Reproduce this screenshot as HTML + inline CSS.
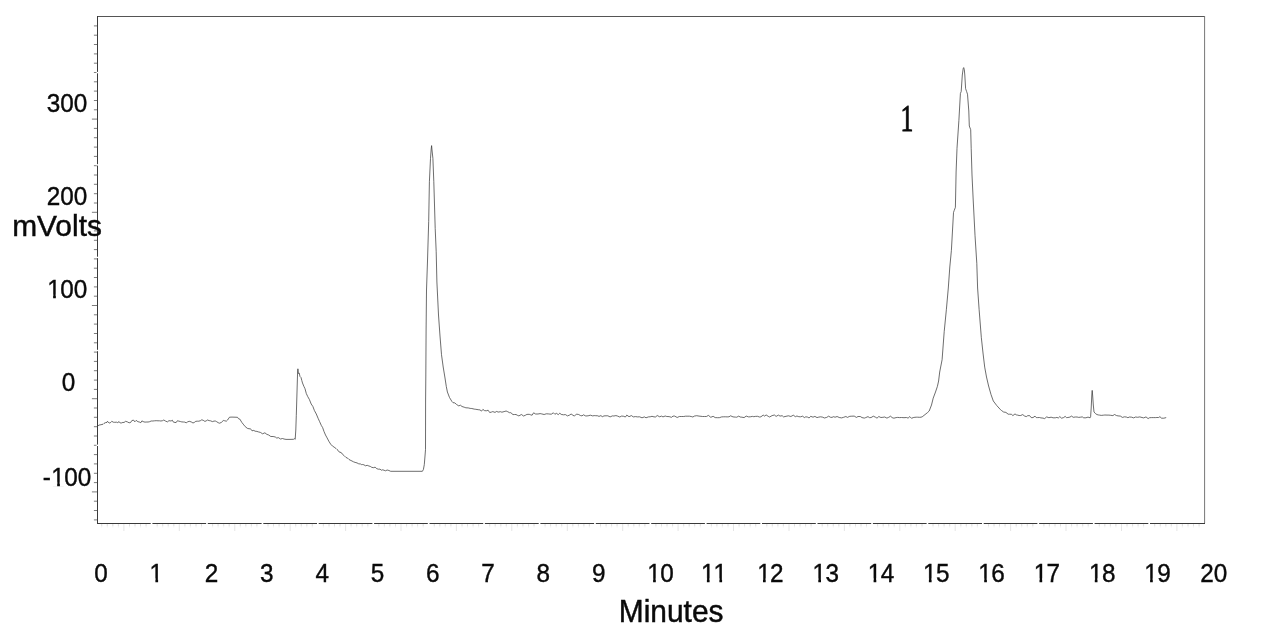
<!DOCTYPE html>
<html lang="en"><head><meta charset="utf-8"><title>Chromatogram</title>
<style>
html,body{margin:0;padding:0;background:#fff;}
body{width:1283px;height:643px;overflow:hidden;position:relative;font-family:"Liberation Sans",Arial,sans-serif;}
svg{position:absolute;left:0;top:0;display:block;}
.num{font-family:"Liberation Sans",Arial,sans-serif;font-size:25.7px;fill:#0a0a0a;stroke:#0a0a0a;stroke-width:0.4px;}
.mk rect{fill:#fff;stroke:none;}
.big{font-family:"Liberation Sans",Arial,sans-serif;font-size:29.9px;fill:#0a0a0a;stroke:#0a0a0a;stroke-width:0.45px;}
.ser{font-family:"Liberation Serif","Times New Roman",serif;font-size:37.7px;fill:#0a0a0a;stroke:#0a0a0a;stroke-width:0.9px;}
</style></head>
<body>
<svg width="1283" height="643" viewBox="0 0 1283 643">
<rect width="1283" height="643" fill="#fff"/>
<g fill="none" stroke-linecap="butt">
<path d="M97 16.5H1205" stroke="#555" stroke-width="1.1"/>
<path d="M1204.6 16V523" stroke="#777" stroke-width="1"/>
<path d="M97.5 16V524" stroke="#3a3a3a" stroke-width="1"/>
<path d="M97 523.5H1205" stroke="#3a3a3a" stroke-width="1.05"/>
<path d="M93.9 25.9H97.5M93.9 35.2H97.5M93.9 44.5H97.5M93.9 53.9H97.5M93.9 63.2H97.5M93.9 72.5H97.5M93.9 81.8H97.5M93.9 91.1H97.5M93.9 100.5H97.5M93.9 109.8H97.5M91.9 119.1H97.5M93.9 128.4H97.5M93.9 137.7H97.5M93.9 147.1H97.5M93.9 156.4H97.5M93.9 165.7H97.5M93.9 175.0H97.5M93.9 184.3H97.5M93.9 193.7H97.5M93.9 203.0H97.5M91.9 212.3H97.5M93.9 221.6H97.5M93.9 230.9H97.5M93.9 240.3H97.5M93.9 249.6H97.5M93.9 258.9H97.5M93.9 268.2H97.5M93.9 277.5H97.5M93.9 286.9H97.5M93.9 296.2H97.5M91.9 305.5H97.5M93.9 314.8H97.5M93.9 324.1H97.5M93.9 333.5H97.5M93.9 342.8H97.5M93.9 352.1H97.5M93.9 361.4H97.5M93.9 370.7H97.5M93.9 380.1H97.5M93.9 389.4H97.5M91.9 398.7H97.5M93.9 408.0H97.5M93.9 417.3H97.5M93.9 426.7H97.5M93.9 436.0H97.5M93.9 445.3H97.5M93.9 454.6H97.5M93.9 463.9H97.5M93.9 473.3H97.5M93.9 482.6H97.5M91.9 491.9H97.5M93.9 501.2H97.5M93.9 510.5H97.5M93.9 519.9H97.5" stroke="#444" stroke-width="0.7"/>
<path d="M101.7 524V527.5M107.3 524V527.5M112.8 524V527.5M118.4 524V527.5M129.5 524V527.5M135.0 524V527.5M140.5 524V527.5M146.1 524V527.5M157.2 524V527.5M162.7 524V527.5M168.2 524V527.5M173.8 524V527.5M184.9 524V527.5M190.4 524V527.5M196.0 524V527.5M201.5 524V527.5M212.6 524V527.5M218.1 524V527.5M223.7 524V527.5M229.2 524V527.5M240.3 524V527.5M245.8 524V527.5M251.4 524V527.5M256.9 524V527.5M268.0 524V527.5M273.5 524V527.5M279.1 524V527.5M284.6 524V527.5M295.7 524V527.5M301.3 524V527.5M306.8 524V527.5M312.3 524V527.5M323.4 524V527.5M329.0 524V527.5M334.5 524V527.5M340.0 524V527.5M351.1 524V527.5M356.7 524V527.5M362.2 524V527.5M367.8 524V527.5M378.8 524V527.5M384.4 524V527.5M389.9 524V527.5M395.5 524V527.5M406.6 524V527.5M412.1 524V527.5M417.6 524V527.5M423.2 524V527.5M434.3 524V527.5M439.8 524V527.5M445.3 524V527.5M450.9 524V527.5M462.0 524V527.5M467.5 524V527.5M473.1 524V527.5M478.6 524V527.5M489.7 524V527.5M495.2 524V527.5M500.8 524V527.5M506.3 524V527.5M517.4 524V527.5M522.9 524V527.5M528.5 524V527.5M534.0 524V527.5M545.1 524V527.5M550.6 524V527.5M556.2 524V527.5M561.7 524V527.5M572.8 524V527.5M578.4 524V527.5M583.9 524V527.5M589.4 524V527.5M600.5 524V527.5M606.1 524V527.5M611.6 524V527.5M617.1 524V527.5M628.2 524V527.5M633.8 524V527.5M639.3 524V527.5M644.9 524V527.5M655.9 524V527.5M661.5 524V527.5M667.0 524V527.5M672.6 524V527.5M683.7 524V527.5M689.2 524V527.5M694.7 524V527.5M700.3 524V527.5M711.4 524V527.5M716.9 524V527.5M722.4 524V527.5M728.0 524V527.5M739.1 524V527.5M744.6 524V527.5M750.2 524V527.5M755.7 524V527.5M766.8 524V527.5M772.3 524V527.5M777.9 524V527.5M783.4 524V527.5M794.5 524V527.5M800.0 524V527.5M805.6 524V527.5M811.1 524V527.5M822.2 524V527.5M827.7 524V527.5M833.3 524V527.5M838.8 524V527.5M849.9 524V527.5M855.5 524V527.5M861.0 524V527.5M866.5 524V527.5M877.6 524V527.5M883.2 524V527.5M888.7 524V527.5M894.2 524V527.5M905.3 524V527.5M910.9 524V527.5M916.4 524V527.5M922.0 524V527.5M933.0 524V527.5M938.6 524V527.5M944.1 524V527.5M949.7 524V527.5M960.8 524V527.5M966.3 524V527.5M971.8 524V527.5M977.4 524V527.5M988.5 524V527.5M994.0 524V527.5M999.5 524V527.5M1005.1 524V527.5M1016.2 524V527.5M1021.7 524V527.5M1027.3 524V527.5M1032.8 524V527.5M1043.9 524V527.5M1049.4 524V527.5M1055.0 524V527.5M1060.5 524V527.5M1071.6 524V527.5M1077.1 524V527.5M1082.7 524V527.5M1088.2 524V527.5M1099.3 524V527.5M1104.8 524V527.5M1110.4 524V527.5M1115.9 524V527.5M1127.0 524V527.5M1132.6 524V527.5M1138.1 524V527.5M1143.6 524V527.5M1154.7 524V527.5M1160.3 524V527.5M1165.8 524V527.5M1171.3 524V527.5M1182.4 524V527.5M1188.0 524V527.5M1193.5 524V527.5M1199.1 524V527.5" stroke="#ececec" stroke-width="0.8"/>
<path d="M101.7 524.2V525.8M107.3 524.2V525.8M112.8 524.2V525.8M118.4 524.2V525.8M129.5 524.2V525.8M135.0 524.2V525.8M140.5 524.2V525.8M146.1 524.2V525.8M157.2 524.2V525.8M162.7 524.2V525.8M168.2 524.2V525.8M173.8 524.2V525.8M184.9 524.2V525.8M190.4 524.2V525.8M196.0 524.2V525.8M201.5 524.2V525.8M212.6 524.2V525.8M218.1 524.2V525.8M223.7 524.2V525.8M229.2 524.2V525.8M240.3 524.2V525.8M245.8 524.2V525.8M251.4 524.2V525.8M256.9 524.2V525.8M268.0 524.2V525.8M273.5 524.2V525.8M279.1 524.2V525.8M284.6 524.2V525.8M295.7 524.2V525.8M301.3 524.2V525.8M306.8 524.2V525.8M312.3 524.2V525.8M323.4 524.2V525.8M329.0 524.2V525.8M334.5 524.2V525.8M340.0 524.2V525.8M351.1 524.2V525.8M356.7 524.2V525.8M362.2 524.2V525.8M367.8 524.2V525.8M378.8 524.2V525.8M384.4 524.2V525.8M389.9 524.2V525.8M395.5 524.2V525.8M406.6 524.2V525.8M412.1 524.2V525.8M417.6 524.2V525.8M423.2 524.2V525.8M434.3 524.2V525.8M439.8 524.2V525.8M445.3 524.2V525.8M450.9 524.2V525.8M462.0 524.2V525.8M467.5 524.2V525.8M473.1 524.2V525.8M478.6 524.2V525.8M489.7 524.2V525.8M495.2 524.2V525.8M500.8 524.2V525.8M506.3 524.2V525.8M517.4 524.2V525.8M522.9 524.2V525.8M528.5 524.2V525.8M534.0 524.2V525.8M545.1 524.2V525.8M550.6 524.2V525.8M556.2 524.2V525.8M561.7 524.2V525.8M572.8 524.2V525.8M578.4 524.2V525.8M583.9 524.2V525.8M589.4 524.2V525.8M600.5 524.2V525.8M606.1 524.2V525.8M611.6 524.2V525.8M617.1 524.2V525.8M628.2 524.2V525.8M633.8 524.2V525.8M639.3 524.2V525.8M644.9 524.2V525.8M655.9 524.2V525.8M661.5 524.2V525.8M667.0 524.2V525.8M672.6 524.2V525.8M683.7 524.2V525.8M689.2 524.2V525.8M694.7 524.2V525.8M700.3 524.2V525.8M711.4 524.2V525.8M716.9 524.2V525.8M722.4 524.2V525.8M728.0 524.2V525.8M739.1 524.2V525.8M744.6 524.2V525.8M750.2 524.2V525.8M755.7 524.2V525.8M766.8 524.2V525.8M772.3 524.2V525.8M777.9 524.2V525.8M783.4 524.2V525.8M794.5 524.2V525.8M800.0 524.2V525.8M805.6 524.2V525.8M811.1 524.2V525.8M822.2 524.2V525.8M827.7 524.2V525.8M833.3 524.2V525.8M838.8 524.2V525.8M849.9 524.2V525.8M855.5 524.2V525.8M861.0 524.2V525.8M866.5 524.2V525.8M877.6 524.2V525.8M883.2 524.2V525.8M888.7 524.2V525.8M894.2 524.2V525.8M905.3 524.2V525.8M910.9 524.2V525.8M916.4 524.2V525.8M922.0 524.2V525.8M933.0 524.2V525.8M938.6 524.2V525.8M944.1 524.2V525.8M949.7 524.2V525.8M960.8 524.2V525.8M966.3 524.2V525.8M971.8 524.2V525.8M977.4 524.2V525.8M988.5 524.2V525.8M994.0 524.2V525.8M999.5 524.2V525.8M1005.1 524.2V525.8M1016.2 524.2V525.8M1021.7 524.2V525.8M1027.3 524.2V525.8M1032.8 524.2V525.8M1043.9 524.2V525.8M1049.4 524.2V525.8M1055.0 524.2V525.8M1060.5 524.2V525.8M1071.6 524.2V525.8M1077.1 524.2V525.8M1082.7 524.2V525.8M1088.2 524.2V525.8M1099.3 524.2V525.8M1104.8 524.2V525.8M1110.4 524.2V525.8M1115.9 524.2V525.8M1127.0 524.2V525.8M1132.6 524.2V525.8M1138.1 524.2V525.8M1143.6 524.2V525.8M1154.7 524.2V525.8M1160.3 524.2V525.8M1165.8 524.2V525.8M1171.3 524.2V525.8M1182.4 524.2V525.8M1188.0 524.2V525.8M1193.5 524.2V525.8M1199.1 524.2V525.8" stroke="#d4d4d4" stroke-width="0.7"/>
<path d="M123.9 524V531M179.3 524V531M234.8 524V531M290.2 524V531M345.6 524V531M401.0 524V531M456.4 524V531M511.8 524V531M567.3 524V531M622.7 524V531M678.1 524V531M733.5 524V531M789.0 524V531M844.4 524V531M899.8 524V531M955.2 524V531M1010.6 524V531M1066.0 524V531M1121.5 524V531M1176.9 524V531" stroke="#e2e2e2" stroke-width="0.9"/>
</g>
<rect x="96.5" y="71.9" width="2.2" height="1.4" fill="#fff"/><rect x="96.5" y="164.2" width="2.2" height="1.4" fill="#fff"/><rect x="96.5" y="256.7" width="2.2" height="1.4" fill="#fff"/><rect x="96.5" y="349.8" width="2.2" height="1.4" fill="#fff"/><rect x="96.5" y="444.6" width="2.2" height="1.4" fill="#fff"/><rect x="150.7" y="522.2" width="1.7" height="2.6" fill="#fff"/><rect x="206.1" y="522.2" width="1.7" height="2.6" fill="#fff"/><rect x="261.6" y="522.2" width="1.7" height="2.6" fill="#fff"/><rect x="317.0" y="522.2" width="1.7" height="2.6" fill="#fff"/><rect x="372.4" y="522.2" width="1.7" height="2.6" fill="#fff"/><rect x="427.8" y="522.2" width="1.7" height="2.6" fill="#fff"/><rect x="483.2" y="522.2" width="1.7" height="2.6" fill="#fff"/><rect x="538.7" y="522.2" width="1.7" height="2.6" fill="#fff"/><rect x="594.1" y="522.2" width="1.7" height="2.6" fill="#fff"/><rect x="649.5" y="522.2" width="1.7" height="2.6" fill="#fff"/><rect x="704.9" y="522.2" width="1.7" height="2.6" fill="#fff"/><rect x="760.3" y="522.2" width="1.7" height="2.6" fill="#fff"/><rect x="815.8" y="522.2" width="1.7" height="2.6" fill="#fff"/><rect x="871.2" y="522.2" width="1.7" height="2.6" fill="#fff"/><rect x="926.6" y="522.2" width="1.7" height="2.6" fill="#fff"/><rect x="982.0" y="522.2" width="1.7" height="2.6" fill="#fff"/><rect x="1037.4" y="522.2" width="1.7" height="2.6" fill="#fff"/><rect x="1092.9" y="522.2" width="1.7" height="2.6" fill="#fff"/><rect x="1148.3" y="522.2" width="1.7" height="2.6" fill="#fff"/>
<path d="M98.0 425.5 L99.0 425.4 L100.0 424.6 L101.0 425.0 L102.0 424.2 L103.0 424.4 L104.0 423.4 L105.6 422.6 L107.0 422.4 L107.5 421.3 L109.2 423.1 L110.7 422.5 L111.8 421.3 L113.3 422.2 L114.7 422.3 L116.6 422.2 L117.7 422.6 L119.1 421.6 L120.2 423.0 L121.7 422.9 L122.9 422.4 L124.0 422.5 L125.6 421.3 L127.4 421.9 L129.1 422.8 L130.6 422.5 L131.9 420.5 L133.7 420.2 L134.8 421.8 L136.2 420.4 L137.9 421.7 L139.3 422.0 L140.8 422.7 L141.9 420.9 L143.9 421.9 L145.1 422.1 L146.8 422.0 L148.1 422.0 L149.6 421.7 L151.2 421.0 L152.9 421.0 L154.6 420.8 L156.2 420.7 L158.0 420.8 L159.5 420.8 L160.9 421.0 L162.5 420.7 L163.8 420.0 L165.6 421.1 L167.4 421.9 L169.0 420.6 L170.1 420.9 L171.2 420.9 L172.3 420.2 L173.5 422.2 L175.0 422.4 L176.1 422.6 L177.3 420.8 L178.8 421.1 L180.6 421.6 L181.8 421.9 L183.5 422.0 L184.7 422.1 L186.2 422.8 L187.6 421.9 L189.2 421.3 L191.2 421.9 L193.0 423.0 L194.7 422.2 L195.8 421.3 L197.5 421.2 L198.8 421.2 L200.4 420.7 L201.8 419.8 L203.2 420.3 L204.9 421.4 L206.2 420.9 L207.3 420.0 L209.2 420.6 L210.5 420.8 L212.4 421.6 L214.0 421.1 L215.3 421.0 L216.5 421.6 L218.2 422.7 L219.6 423.2 L221.4 422.4 L223.3 420.5 L224.4 420.7 L226.3 421.2 L227.6 420.0 L229.5 417.2 L232.0 417.1 L235.0 417.2 L237.5 417.3 L238.5 418.7 L239.8 419.1 L241.9 422.5 L243.8 424.9 L245.2 426.6 L247.3 428.3 L249.1 428.8 L250.4 428.7 L252.0 430.8 L253.8 430.4 L255.1 431.2 L256.9 431.4 L258.4 431.9 L260.4 432.4 L262.6 433.8 L264.9 432.8 L266.9 434.4 L268.7 435.0 L270.8 436.5 L273.1 436.5 L275.3 437.0 L276.8 438.1 L278.3 437.6 L280.5 439.0 L282.5 438.5 L284.0 439.0 L286.0 439.4 L290.0 439.4 L293.5 439.3 L294.3 438.6 L295.2 439.3 L295.8 430.0 L296.3 415.3 L297.0 392.0 L297.6 372.0 L297.9 368.8 L298.4 373.5 L299.2 373.0 L300.0 376.5 L301.0 377.5 L301.8 380.5 L302.5 383.0 L303.9 386.4 L305.0 388.7 L306.3 393.5 L307.7 396.5 L309.4 399.5 L311.2 404.0 L312.9 406.5 L314.4 410.5 L316.3 414.0 L318.1 418.3 L319.5 421.4 L321.4 425.6 L322.6 427.5 L324.0 431.5 L325.5 435.0 L327.1 437.9 L328.8 441.2 L330.7 444.2 L332.5 446.1 L334.1 447.1 L335.9 448.4 L337.0 449.5 L338.1 450.4 L339.3 452.1 L341.2 452.5 L342.2 454.0 L344.1 455.6 L346.0 457.5 L347.6 458.1 L349.0 459.5 L350.1 460.1 L352.0 461.0 L353.5 461.8 L355.1 462.4 L357.0 462.9 L358.7 463.8 L360.6 464.0 L361.7 464.7 L362.7 464.5 L363.9 464.8 L365.5 465.8 L367.2 465.3 L368.9 466.0 L370.3 466.4 L371.7 467.3 L373.3 467.7 L375.1 467.2 L376.8 468.7 L378.5 469.2 L380.0 469.1 L381.3 470.2 L382.8 469.8 L384.1 470.3 L385.6 470.8 L387.1 470.0 L388.9 470.5 L390.7 471.3 L391.0 471.3 L422.4 471.3 L423.4 469.5 L424.3 464.6 L425.0 456.0 L425.5 449.7 L425.6 400.0 L425.8 378.0 L426.1 330.0 L426.5 290.0 L427.5 261.0 L428.7 221.4 L429.4 181.7 L430.5 158.3 L431.2 149.0 L431.6 145.6 L432.1 151.0 L432.9 158.3 L433.8 181.7 L434.5 205.0 L435.2 228.4 L436.2 251.7 L436.9 282.0 L438.5 315.0 L440.0 336.0 L441.5 354.7 L443.2 367.0 L445.0 378.0 L446.3 386.5 L447.4 392.0 L449.5 397.5 L452.0 401.6 L453.0 402.7 L454.8 402.9 L456.6 404.5 L458.8 405.9 L460.4 405.2 L462.0 406.5 L464.2 407.2 L465.9 407.8 L468.2 407.9 L470.2 408.4 L471.8 408.5 L474.2 409.1 L475.8 409.3 L478.2 409.7 L480.0 409.9 L481.5 411.1 L482.9 409.4 L484.5 410.6 L486.3 410.8 L488.1 410.2 L489.7 412.5 L491.4 412.1 L492.8 411.6 L495.0 412.4 L496.7 411.4 L498.1 412.1 L500.5 411.7 L501.9 412.2 L504.1 411.6 L506.1 411.0 L507.7 411.7 L509.5 412.7 L510.8 412.7 L513.0 414.6 L514.5 414.5 L516.0 414.5 L517.6 415.4 L518.9 415.9 L521.4 414.5 L523.6 416.0 L525.5 415.2 L526.9 414.4 L529.2 414.3 L530.6 414.8 L532.1 415.2 L533.6 412.8 L535.6 414.0 L538.0 414.0 L540.1 413.6 L541.7 413.9 L544.1 414.5 L546.3 413.8 L548.3 413.9 L549.9 414.1 L551.3 414.2 L553.4 412.8 L554.9 414.3 L556.3 413.3 L558.3 414.6 L559.8 413.2 L561.2 414.4 L563.4 414.8 L565.4 414.6 L567.5 415.9 L569.7 415.0 L571.1 414.0 L572.9 415.2 L574.4 416.1 L576.4 414.1 L578.6 414.5 L580.4 415.5 L582.0 415.9 L583.4 414.8 L585.8 416.0 L588.1 415.8 L590.4 415.2 L592.7 415.9 L594.2 415.6 L595.7 415.7 L597.7 415.8 L599.0 416.4 L600.9 415.6 L602.3 416.7 L604.0 415.9 L606.1 415.8 L607.8 415.8 L610.1 416.9 L612.4 415.9 L613.9 416.0 L615.9 415.6 L617.4 416.0 L619.8 417.0 L621.5 416.1 L623.3 416.2 L625.4 417.0 L626.8 415.1 L629.0 416.7 L631.4 415.6 L633.3 416.9 L635.5 416.6 L637.6 416.9 L639.6 416.8 L642.0 417.8 L644.4 416.9 L646.0 417.8 L648.4 416.9 L650.2 416.8 L652.0 416.3 L654.0 416.9 L655.7 416.9 L657.2 415.5 L659.7 416.8 L661.4 416.1 L663.0 416.9 L665.2 416.0 L666.8 416.5 L669.1 416.6 L671.5 417.3 L673.0 416.1 L674.7 416.1 L677.2 417.5 L679.3 416.5 L681.7 416.5 L683.7 416.5 L685.6 416.2 L687.9 416.2 L689.4 416.2 L691.2 416.5 L692.9 417.0 L694.3 416.1 L696.7 415.7 L699.0 416.1 L701.0 416.3 L702.5 416.5 L704.6 416.5 L706.4 416.5 L708.4 415.4 L710.8 417.3 L713.1 416.3 L715.2 417.6 L717.3 417.7 L719.3 417.7 L721.7 416.9 L723.7 416.8 L725.7 416.8 L727.1 416.9 L729.0 416.8 L730.6 415.8 L733.0 416.9 L735.4 417.1 L736.7 417.2 L738.8 416.1 L740.1 417.0 L741.9 417.2 L744.1 417.6 L746.2 416.1 L748.6 416.9 L750.3 416.8 L752.4 416.4 L753.8 416.7 L755.4 416.4 L757.5 416.3 L759.5 417.0 L760.9 416.8 L763.2 415.1 L764.7 416.1 L766.1 414.9 L768.2 416.3 L769.6 417.0 L772.1 415.6 L774.4 415.0 L776.1 416.4 L778.4 415.1 L780.0 416.1 L782.2 415.7 L783.5 416.9 L786.0 416.3 L788.4 415.8 L790.9 416.5 L793.3 415.2 L795.4 416.7 L796.9 416.0 L798.8 416.7 L800.5 416.8 L802.7 416.2 L804.3 417.6 L805.8 416.8 L807.6 417.1 L809.1 418.0 L810.7 416.3 L813.0 417.2 L814.9 416.4 L817.0 417.6 L818.8 417.1 L820.6 416.8 L822.8 417.2 L824.3 418.0 L826.7 417.4 L828.6 416.2 L830.6 417.3 L832.0 417.4 L833.4 416.7 L835.1 417.2 L837.1 416.5 L839.2 417.5 L841.6 417.9 L843.6 417.3 L845.9 416.5 L847.4 417.4 L849.8 416.3 L851.8 416.2 L854.2 416.1 L856.4 417.4 L858.0 416.5 L860.3 416.5 L862.0 417.6 L864.3 418.1 L865.7 417.6 L868.0 416.6 L869.4 417.6 L871.0 417.6 L873.3 416.2 L875.7 417.3 L877.0 418.2 L878.8 416.5 L880.9 417.5 L882.9 417.3 L884.7 417.0 L886.9 418.1 L888.5 417.4 L890.6 416.2 L892.1 417.6 L893.9 418.2 L896.1 417.6 L897.7 417.4 L899.6 417.6 L901.6 417.5 L904.0 417.7 L906.4 417.5 L908.1 418.1 L909.8 416.6 L911.5 418.3 L913.2 417.6 L914.9 417.3 L916.3 417.2 L917.6 417.2 L919.7 417.3 L921.0 417.2 L922.2 416.8 L925.0 414.6 L927.5 412.6 L929.2 411.0 L931.5 405.0 L933.2 398.2 L935.5 392.0 L937.4 386.4 L938.6 381.0 L939.7 372.0 L942.1 359.7 L944.2 331.7 L946.4 309.3 L948.3 288.0 L949.8 267.0 L951.4 250.3 L953.5 212.5 L954.2 210.5 L955.4 207.3 L956.1 172.0 L957.0 148.3 L958.9 120.3 L960.4 93.5 L961.2 91.5 L962.3 75.0 L963.2 68.6 L963.7 67.6 L964.3 69.5 L964.8 75.0 L965.6 88.6 L966.6 91.5 L967.5 94.2 L968.8 111.0 L969.3 126.0 L970.7 129.7 L971.2 148.3 L972.0 175.0 L973.1 198.0 L975.0 235.3 L976.8 263.3 L977.6 288.0 L979.1 309.3 L981.3 337.3 L983.0 353.0 L984.7 367.1 L986.5 377.0 L988.6 386.0 L991.0 394.5 L993.3 401.0 L996.8 405.6 L1000.5 409.7 L1001.5 410.5 L1003.6 412.0 L1005.9 412.4 L1008.2 414.2 L1009.5 414.2 L1011.4 414.3 L1012.9 415.6 L1015.0 413.9 L1016.4 414.9 L1017.6 415.1 L1019.1 415.5 L1020.7 415.5 L1022.7 414.6 L1024.7 416.1 L1026.3 416.6 L1027.7 415.7 L1029.6 415.6 L1031.2 417.6 L1033.0 417.6 L1035.0 416.1 L1036.3 417.6 L1037.6 417.6 L1039.5 417.5 L1040.9 417.9 L1043.0 418.1 L1044.6 418.6 L1046.7 416.9 L1048.9 417.7 L1051.1 417.2 L1053.1 417.8 L1055.3 417.8 L1056.9 417.4 L1058.3 418.0 L1059.8 416.6 L1061.6 418.2 L1063.5 417.6 L1065.2 416.4 L1066.5 417.6 L1067.9 417.5 L1069.9 417.1 L1071.6 416.1 L1073.2 417.3 L1075.4 417.0 L1077.1 417.0 L1078.7 417.4 L1080.4 417.2 L1082.3 416.9 L1083.7 417.8 L1085.9 417.8 L1088.0 417.1 L1090.1 417.8 L1090.6 416.8 L1091.2 408.0 L1091.8 395.0 L1092.2 390.4 L1092.7 396.0 L1093.3 405.0 L1094.0 412.0 L1095.5 413.6 L1097.0 414.6 L1098.7 415.0 L1099.5 415.1 L1101.3 415.4 L1103.3 415.2 L1104.9 415.0 L1107.0 415.1 L1108.9 415.1 L1110.7 415.3 L1112.9 415.6 L1114.5 414.5 L1116.6 415.6 L1118.1 415.9 L1120.4 416.1 L1122.4 417.4 L1124.6 416.8 L1126.6 417.1 L1127.9 417.7 L1129.5 417.0 L1131.7 417.2 L1133.7 417.9 L1135.5 417.0 L1137.7 417.3 L1139.8 416.9 L1142.0 417.5 L1143.7 417.9 L1146.0 416.9 L1148.1 418.6 L1149.6 417.7 L1151.6 417.6 L1153.7 417.6 L1155.5 417.6 L1156.9 417.5 L1158.6 417.5 L1159.9 416.7 L1161.6 418.2 L1163.8 418.2 L1166.2 417.6" fill="none" stroke="#333" stroke-width="0.72" stroke-linejoin="round"/>
<g class="num"><g transform="translate(67.0 112.0) scale(0.945 1)"><text x="-21.44 -7.15 7.15" y="0">300</text></g><g transform="translate(67.0 205.1) scale(0.945 1)"><text x="-21.44 -7.15 7.15" y="0">200</text></g><g transform="translate(67.0 298.3) scale(0.945 1)"><text x="-20.84 -7.15 7.15" y="0">100</text><g class="mk"><rect x="-20.16" y="-3.92" width="5.48" height="5.02"/><rect x="-11.81" y="-3.92" width="5.20" height="5.02"/></g></g><g transform="translate(68.5 390.8) scale(0.945 1)"><text x="-7.15" y="0">0</text></g><g transform="translate(67.0 485.7) scale(0.945 1)"><text x="-25.72 -16.56 -2.87 11.43" y="0">-100</text><g class="mk"><rect x="-15.88" y="-3.92" width="5.48" height="5.02"/><rect x="-7.53" y="-3.92" width="5.20" height="5.02"/></g></g></g>
<g class="num"><g transform="translate(94.2 582.3) scale(0.945 1)"><text x="0.00" y="0">0</text></g><g transform="translate(149.0 582.3) scale(0.945 1)"><text x="0.60" y="0">1</text><g class="mk"><rect x="1.28" y="-3.92" width="5.48" height="5.02"/><rect x="9.63" y="-3.92" width="5.20" height="5.02"/></g></g><g transform="translate(204.8 582.3) scale(0.945 1)"><text x="0.00" y="0">2</text></g><g transform="translate(260.1 582.3) scale(0.945 1)"><text x="0.00" y="0">3</text></g><g transform="translate(315.4 582.3) scale(0.945 1)"><text x="0.00" y="0">4</text></g><g transform="translate(370.7 582.3) scale(0.945 1)"><text x="0.00" y="0">5</text></g><g transform="translate(426.0 582.3) scale(0.945 1)"><text x="0.00" y="0">6</text></g><g transform="translate(481.3 582.3) scale(0.945 1)"><text x="0.00" y="0">7</text></g><g transform="translate(536.6 582.3) scale(0.945 1)"><text x="0.00" y="0">8</text></g><g transform="translate(591.9 582.3) scale(0.945 1)"><text x="0.00" y="0">9</text></g><g transform="translate(646.7 582.3) scale(0.945 1)"><text x="0.60 14.29" y="0">10</text><g class="mk"><rect x="1.28" y="-3.92" width="5.48" height="5.02"/><rect x="9.63" y="-3.92" width="5.20" height="5.02"/></g></g><g transform="translate(700.5 582.3) scale(0.945 1)"><text x="0.60 13.81" y="0">11</text><g class="mk"><rect x="1.28" y="-3.92" width="5.48" height="5.02"/><rect x="9.63" y="-3.92" width="5.20" height="5.02"/><rect x="14.50" y="-3.92" width="5.48" height="5.02"/><rect x="22.85" y="-3.92" width="5.20" height="5.02"/></g></g><g transform="translate(756.6 582.3) scale(0.945 1)"><text x="0.60 14.29" y="0">12</text><g class="mk"><rect x="1.28" y="-3.92" width="5.48" height="5.02"/><rect x="9.63" y="-3.92" width="5.20" height="5.02"/></g></g><g transform="translate(811.9 582.3) scale(0.945 1)"><text x="0.60 14.29" y="0">13</text><g class="mk"><rect x="1.28" y="-3.92" width="5.48" height="5.02"/><rect x="9.63" y="-3.92" width="5.20" height="5.02"/></g></g><g transform="translate(867.2 582.3) scale(0.945 1)"><text x="0.60 14.29" y="0">14</text><g class="mk"><rect x="1.28" y="-3.92" width="5.48" height="5.02"/><rect x="9.63" y="-3.92" width="5.20" height="5.02"/></g></g><g transform="translate(922.5 582.3) scale(0.945 1)"><text x="0.60 14.29" y="0">15</text><g class="mk"><rect x="1.28" y="-3.92" width="5.48" height="5.02"/><rect x="9.63" y="-3.92" width="5.20" height="5.02"/></g></g><g transform="translate(977.8 582.3) scale(0.945 1)"><text x="0.60 14.29" y="0">16</text><g class="mk"><rect x="1.28" y="-3.92" width="5.48" height="5.02"/><rect x="9.63" y="-3.92" width="5.20" height="5.02"/></g></g><g transform="translate(1033.1 582.3) scale(0.945 1)"><text x="0.60 14.29" y="0">17</text><g class="mk"><rect x="1.28" y="-3.92" width="5.48" height="5.02"/><rect x="9.63" y="-3.92" width="5.20" height="5.02"/></g></g><g transform="translate(1088.4 582.3) scale(0.945 1)"><text x="0.60 14.29" y="0">18</text><g class="mk"><rect x="1.28" y="-3.92" width="5.48" height="5.02"/><rect x="9.63" y="-3.92" width="5.20" height="5.02"/></g></g><g transform="translate(1143.7 582.3) scale(0.945 1)"><text x="0.60 14.29" y="0">19</text><g class="mk"><rect x="1.28" y="-3.92" width="5.48" height="5.02"/><rect x="9.63" y="-3.92" width="5.20" height="5.02"/></g></g><g transform="translate(1200.2 582.3) scale(0.945 1)"><text x="0.00 14.29" y="0">20</text></g></g>
<text class="big" x="12.2" y="236">mVolts</text>
<text class="big" transform="translate(618.8 622.1) scale(1 1.03)">Minutes</text>
<text class="ser" transform="translate(900.5 130.6) scale(0.68 1)">1</text>
</svg>
</body></html>
